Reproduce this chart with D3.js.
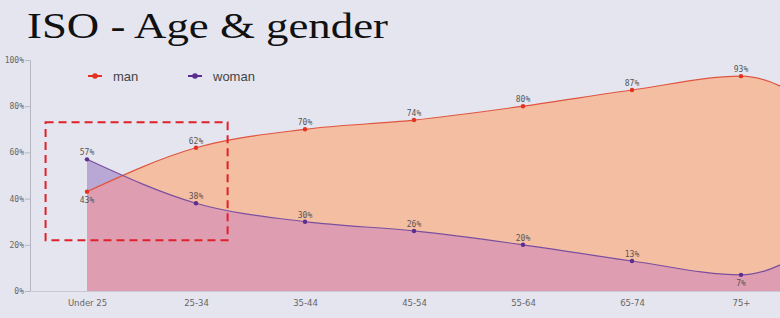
<!DOCTYPE html>
<html>
<head>
<meta charset="utf-8">
<script src="https://cdn.jsdelivr.net/npm/d3@7"></script>
<style>
  html, body { margin: 0; padding: 0; background: #e4e5ef; overflow: hidden; }
  svg { display: block; }
</style>
</head>
<body>
<div id="chart"></div>
<script>
// categories and series (last category lies past the cropped right edge)
var categories = ["Under 25", "25-34", "35-44", "45-54", "55-64", "65-74", "75+", "n/a"];
var visibleCount = 7;
var manValues   = [43, 62, 70, 74, 80, 87, 93, 68];
var womanValues = [57, 38, 30, 26, 20, 13, 7, 32];
var yTicks = [0, 20, 40, 60, 80, 100];
// label below the dot instead of above
var manBelow   = [true, false, false, false, false, false, false, false];
var womanBelow = [false, false, false, false, false, false, true, false];

var width = 780, height = 318;

var svg = d3.select("#chart")
  .append("svg")
  .attr("width", width)
  .attr("height", height);

// slide title
svg.append("text")
  .attr("x", 27)
  .attr("y", 38)
  .attr("font-family", "Liberation Serif, Times New Roman, serif")
  .attr("font-size", "35px")
  .attr("textLength", 361)
  .attr("lengthAdjust", "spacingAndGlyphs")
  .attr("fill", "#111")
  .text("ISO - Age & gender");

var x = d3.scalePoint()
  .domain(categories)
  .range([87, 87 + 109 * (categories.length - 1)]);

var y = d3.scaleLinear()
  .domain([0, 100])
  .range([291, 60]);

var curve = d3.curveMonotoneX;

function areaFor(vals) {
  return d3.area()
    .x(function(d, i) { return x(categories[i]); })
    .y0(y(0))
    .y1(function(d) { return y(d); })
    .curve(curve)(vals);
}
function lineFor(vals) {
  return d3.line()
    .x(function(d, i) { return x(categories[i]); })
    .y(function(d) { return y(d); })
    .curve(curve)(vals);
}

// clip the overlap to the man area
svg.append("clipPath")
  .attr("id", "manClip")
  .append("path")
  .attr("d", areaFor(manValues));

var plot = svg.append("g");

plot.append("path").attr("d", areaFor(womanValues)).attr("fill", "#b9a7d5");
plot.append("path").attr("d", areaFor(manValues)).attr("fill", "#f4bea2");
plot.append("path").attr("d", areaFor(womanValues)).attr("fill", "#de9db1")
  .attr("clip-path", "url(#manClip)");

plot.append("path").attr("d", lineFor(manValues))
  .attr("fill", "none").attr("stroke", "#e0553f").attr("stroke-width", 1.2);
plot.append("path").attr("d", lineFor(womanValues))
  .attr("fill", "none").attr("stroke", "#7a4f9f").attr("stroke-width", 1.2);

// axes
var yAxis = svg.append("g")
  .attr("transform", "translate(30,0)")
  .call(d3.axisLeft(y).tickValues(yTicks).tickSize(5).tickFormat(function(d) { return d + "%"; }));
yAxis.select(".domain").attr("stroke", "#b4b6c2");
yAxis.selectAll(".tick line").attr("stroke", "#b4b6c2");
yAxis.selectAll(".tick text")
  .attr("font-family", "DejaVu Sans Mono, monospace")
  .attr("font-size", "8px")
  .attr("fill", "#666")
  .attr("x", -6);

var xAxis = svg.append("g")
  .attr("transform", "translate(0,291)")
  .call(d3.axisBottom(x).tickValues(categories.slice(0, visibleCount)).tickSize(0).tickPadding(9));
xAxis.select(".domain").attr("stroke", "#c8c9d4").attr("d", "M30,0.5H780");
xAxis.selectAll(".tick text")
  .attr("font-family", "DejaVu Sans, sans-serif")
  .attr("font-size", "8.5px")
  .attr("fill", "#666");

// dots and value labels
function drawPoints(vals, below, color) {
  var shown = vals.slice(0, visibleCount);
  var g = svg.append("g");
  g.selectAll("circle")
    .data(shown)
    .enter()
    .append("circle")
    .attr("cx", function(d, i) { return x(categories[i]); })
    .attr("cy", function(d) { return y(d); })
    .attr("r", 2.2)
    .attr("fill", color);
  g.selectAll("text")
    .data(shown)
    .enter()
    .append("text")
    .attr("x", function(d, i) { return x(categories[i]); })
    .attr("y", function(d, i) { return below[i] ? y(d) + 11 : y(d) - 4; })
    .attr("text-anchor", "middle")
    .attr("font-family", "DejaVu Sans Mono, monospace")
    .attr("font-size", "8px")
    .attr("fill", "#555")
    .text(function(d) { return d + "%"; });
}
drawPoints(manValues, manBelow, "#e3321f");
drawPoints(womanValues, womanBelow, "#5a2d8f");

// legend
var legendItems = [
  { name: "man", color: "#e3321f", x: 88 },
  { name: "woman", color: "#5a2d8f", x: 188 }
];
var legend = svg.append("g").selectAll("g")
  .data(legendItems)
  .enter()
  .append("g")
  .attr("transform", function(d) { return "translate(" + d.x + ",76)"; });
legend.append("line")
  .attr("x1", 0).attr("x2", 14)
  .attr("stroke", function(d) { return d.color; })
  .attr("stroke-width", 2);
legend.append("circle")
  .attr("cx", 7).attr("r", 2.8)
  .attr("fill", function(d) { return d.color; });
legend.append("text")
  .attr("x", 25)
  .attr("y", 5)
  .attr("font-family", "Liberation Sans, Arial, sans-serif")
  .attr("font-size", "13px")
  .attr("fill", "#444")
  .text(function(d) { return d.name; });

// red dashed annotation box around the first two age groups
var boxLeft = x(categories[0]) - 0.38 * x.step();
var boxRight = x(categories[1]) + 0.29 * x.step();
svg.append("rect")
  .attr("x", boxLeft)
  .attr("y", y(73))
  .attr("width", boxRight - boxLeft)
  .attr("height", y(22) - y(73))
  .attr("fill", "none")
  .attr("stroke", "#e0202a")
  .attr("stroke-width", 2)
  .attr("stroke-dasharray", "8,5");
</script>
</body>
</html>
